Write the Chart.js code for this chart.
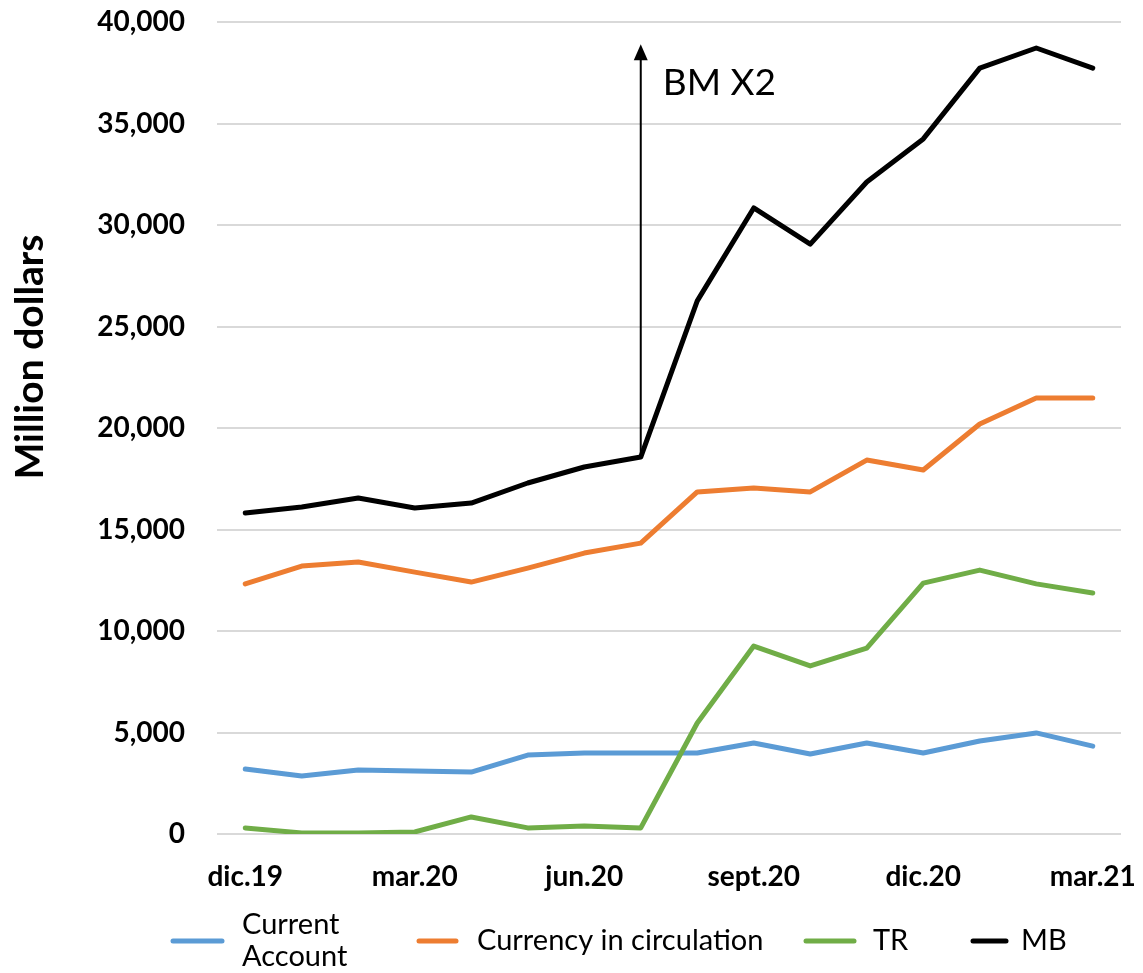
<!DOCTYPE html>
<html>
<head>
<meta charset="utf-8">
<script src="https://cdn.jsdelivr.net/npm/chart.js@4"></script>
<style>
  html, body { margin: 0; padding: 0; background: #fff; }
  #wrap { width: 1143px; height: 973px; }
</style>
</head>
<body>
<div id="wrap"><canvas id="myChart"></canvas></div>
<script>
// months, dic.19 .. mar.21 (only every third is labelled)
const months = ['dic.19', 'ene.20', 'feb.20', 'mar.20', 'abr.20', 'may.20', 'jun.20', 'jul.20',
                'ago.20', 'sept.20', 'oct.20', 'nov.20', 'dic.20', 'ene.21', 'feb.21', 'mar.21'];
const shownLabels = ['dic.19', 'mar.20', 'jun.20', 'sept.20', 'dic.20', 'mar.21'];

const currentAccount = [3200, 2860, 3150, 3100, 3050, 3890, 3990, 3990,
                        3990, 4480, 3940, 4480, 3990, 4580, 4980, 4330];
const currency = [12320, 13200, 13400, 12900, 12410, 13100, 13840, 14330,
                  16850, 17040, 16850, 18420, 17930, 20200, 21480, 21480];
const tr = [300, 50, 50, 100, 840, 300, 390, 300,
            5470, 9260, 8280, 9160, 12360, 13000, 12320, 11870];
const mb = [15810, 16110, 16550, 16060, 16300, 17290, 18080, 18570,
            26260, 30840, 29060, 32120, 34240, 37730, 38720, 37730];

const yTicks = [0, 5000, 10000, 15000, 20000, 25000, 30000, 35000, 40000];

// annotation: arrow from MB at jul.20 up to this value
const arrowIndex = 7;
const arrowTopValue = 38900;
const arrowLabel = 'BM X2';
const arrowLabelValue = 36400;

const FONT = 'Lato, "Open Sans", sans-serif';

// arrow + label drawn on the chart scales
const arrowPlugin = {
    id: 'arrowPlugin',
    afterDatasetsDraw(chart) {
        const ctx = chart.ctx;
        const x = chart.scales.x.getPixelForValue(arrowIndex);
        const y0 = chart.scales.y.getPixelForValue(mb[arrowIndex]);
        const y1 = chart.scales.y.getPixelForValue(arrowTopValue);
        ctx.save();
        ctx.strokeStyle = '#000';
        ctx.fillStyle = '#000';
        ctx.lineWidth = 2;
        ctx.beginPath();
        ctx.moveTo(x, y0);
        ctx.lineTo(x, y1 + 12);
        ctx.stroke();
        ctx.beginPath();
        ctx.moveTo(x, y1);
        ctx.lineTo(x - 7, y1 + 16);
        ctx.lineTo(x + 7, y1 + 16);
        ctx.closePath();
        ctx.fill();
        ctx.font = '37px ' + FONT;
        ctx.textBaseline = 'alphabetic';
        ctx.textAlign = 'left';
        ctx.fillText(arrowLabel, x + 22, chart.scales.y.getPixelForValue(arrowLabelValue));
        ctx.restore();
    }
};

// y axis title, sits higher than the axis middle in the original
const yTitlePlugin = {
    id: 'yTitle',
    afterDraw(chart) {
        const ctx = chart.ctx;
        ctx.save();
        ctx.translate(30, 357);
        ctx.rotate(-Math.PI / 2);
        ctx.font = 'bold 39px ' + FONT;
        ctx.fillStyle = '#000';
        ctx.textAlign = 'center';
        ctx.textBaseline = 'middle';
        ctx.fillText('Million dollars', 0, 0);
        ctx.restore();
    }
};

// legend at the bottom, "Current Account" wraps on two lines
const legendPlugin = {
    id: 'bottomLegend',
    afterDraw(chart) {
        const ctx = chart.ctx;
        const y = 941;
        const slots = [
            { x0: 173, x1: 222, tx: 242 },
            { x0: 419, x1: 456, tx: 477 },
            { x0: 806, x1: 854, tx: 873 },
            { x0: 973, x1: 1006, tx: 1021 }
        ];
        ctx.save();
        ctx.font = '29px ' + FONT;
        ctx.textBaseline = 'middle';
        ctx.fillStyle = '#000';
        chart.data.datasets.forEach((ds, i) => {
            const s = slots[i];
            ctx.strokeStyle = ds.borderColor;
            ctx.lineWidth = 5;
            ctx.lineCap = 'round';
            ctx.beginPath();
            ctx.moveTo(s.x0, y);
            ctx.lineTo(s.x1, y);
            ctx.stroke();
            const lines = ds.legendLines || [ds.label];
            const lh = 32;
            const top = y - (lines.length - 1) * lh / 2;
            lines.forEach((t, k) => ctx.fillText(t, s.tx, top + k * lh));
        });
        ctx.restore();
    }
};

function line(label, data, color, order, legendLines) {
    return {
        label: label,
        data: data,
        borderColor: color,
        backgroundColor: color,
        borderWidth: 5,
        pointRadius: 0,
        tension: 0,
        borderJoinStyle: 'round',
        borderCapStyle: 'round',
        order: order,
        legendLines: legendLines
    };
}

const ctx = document.getElementById('myChart').getContext('2d');
const myChart = new Chart(ctx, {
    type: 'line',
    data: {
        labels: months,
        datasets: [
            line('Current Account', currentAccount, '#5B9BD5', 3, ['Current', 'Account']),
            line('Currency in circulation', currency, '#ED7D31', 2),
            line('TR', tr, '#70AD47', 1),
            line('MB', mb, '#000000', 0)
        ]
    },
    options: {
        responsive: true,
        maintainAspectRatio: false,
        animation: false,
        layout: { padding: { left: 0, right: 22, top: 22, bottom: 69 } },
        plugins: {
            legend: { display: false },
            tooltip: { enabled: false }
        },
        scales: {
            x: {
                offset: true,
                grid: { display: false, drawTicks: false },
                border: { display: false },
                afterFit: scale => {
                    scale.height = 70;
                    scale.paddingLeft = 0;
                    scale.paddingRight = 0;
                },
                ticks: {
                    autoSkip: false,
                    maxRotation: 0,
                    padding: 26,
                    color: '#000',
                    font: { family: FONT, size: 28, weight: 'bold' },
                    callback: function(v) {
                        const l = months[v];
                        return shownLabels.includes(l) ? l : '';
                    }
                }
            },
            y: {
                min: 0,
                max: 40000,
                afterFit: scale => {
                    scale.width = 217;
                    scale.paddingTop = 0;
                    scale.paddingBottom = 0;
                },
                afterBuildTicks: scale => { scale.ticks = yTicks.map(v => ({ value: v })); },
                grid: { color: '#d9d9d9', lineWidth: 2, drawTicks: false },
                border: { display: false },
                ticks: {
                    padding: 32,
                    color: '#000',
                    font: { family: FONT, size: 28, weight: 'bold' },
                    callback: v => v.toLocaleString('en-US')
                }
            }
        }
    },
    plugins: [arrowPlugin, legendPlugin, yTitlePlugin]
});
</script>
</body>
</html>
